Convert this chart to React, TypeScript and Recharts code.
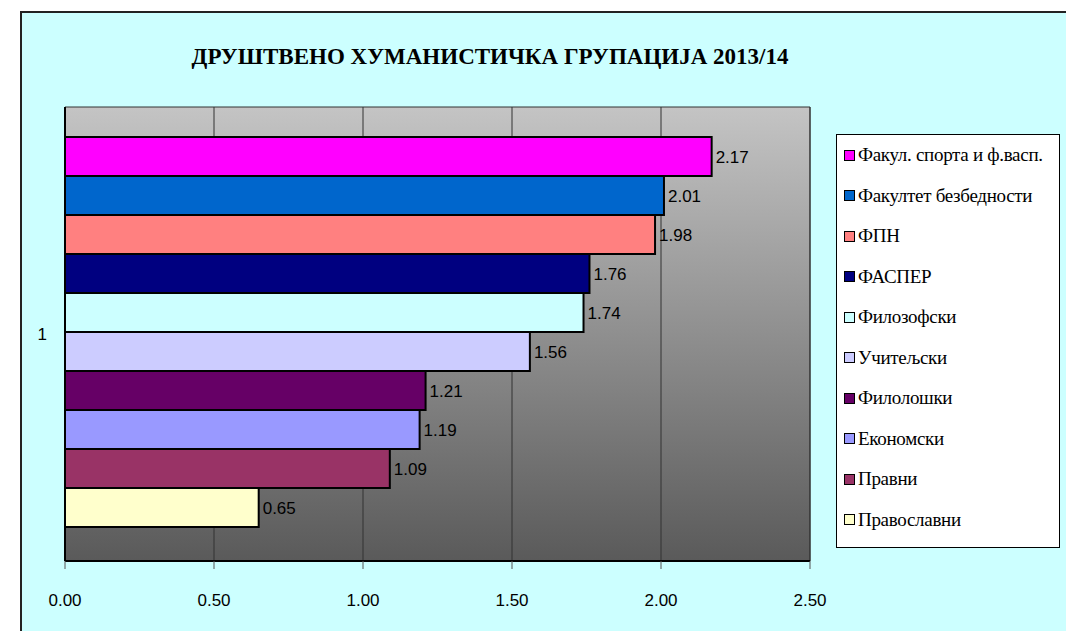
import React from 'react';
import {
  BarChart, Bar, XAxis, YAxis, CartesianGrid, LabelList, ReferenceArea
} from 'recharts';

// faculties, top to bottom
const faculties = [
  'Факул. спорта и ф.васп.',
  'Факултет безбедности',
  'ФПН',
  'ФАСПЕР',
  'Филозофски',
  'Учитељски',
  'Филолошки',
  'Економски',
  'Правни',
  'Православни',
];

const values = [2.17, 2.01, 1.98, 1.76, 1.74, 1.56, 1.21, 1.19, 1.09, 0.65];

const colors = [
  '#FF00FF', '#0066CC', '#FF8080', '#000080', '#CCFFFF',
  '#CCCCFF', '#660066', '#9999FF', '#993366', '#FFFFCC',
];

const categories = ['1'];
const xTicks = [0, 0.5, 1, 1.5, 2, 2.5];

const data = categories.map((name) => {
  const row: any = { name };
  values.forEach((v, i) => { row['s' + i] = v; });
  return row;
});

const sans = '"Liberation Sans", Arial, sans-serif';
const serif = '"Liberation Serif", "Times New Roman", serif';

export default function App() {
  return (
    <div style={{ position: 'relative', width: 1074, height: 639, margin: -8, background: '#fff', overflow: 'hidden' }}>
      {/* cyan frame */}
      <div style={{
        position: 'absolute', left: 20, top: 11, width: 1045, height: 640,
        background: '#CCFFFF', borderLeft: '2px solid #222', borderTop: '2px solid #222', borderRight: '2px solid #222',
      }} />
      <div style={{
        position: 'absolute', left: 0, width: 980, top: 44, textAlign: 'center',
        fontFamily: serif, fontWeight: 'bold', fontSize: 23, color: '#000',
      }}>
        ДРУШТВЕНО ХУМАНИСТИЧКА ГРУПАЦИЈА 2013/14
      </div>

      <div style={{ position: 'absolute', left: 0, top: 0 }}>
        <BarChart
          width={1074}
          height={639}
          data={data}
          layout="vertical"
          margin={{ top: 107, right: 264, bottom: 38, left: 20 }}
          barCategoryGap={30}
          barGap={0}
        >
          <defs>
            <linearGradient id="plotGrad" x1="0" y1="0" x2="0" y2="1">
              <stop offset="0%" stopColor="#C4C4C4" />
              <stop offset="100%" stopColor="#5A5A5A" />
            </linearGradient>
          </defs>
          <CartesianGrid
            horizontal={false}
            stroke="#333"
            fill="url(#plotGrad)"
            fillOpacity={1}
            verticalValues={xTicks}
          />
          <ReferenceArea x1={0} x2={2.5} fill="none" stroke="#333" strokeWidth={1} ifOverflow="extendDomain" />
          <XAxis
            type="number"
            domain={[0, 2.5]}
            ticks={xTicks}
            tickFormatter={(v: number) => v.toFixed(2)}
            axisLine={{ stroke: '#000', strokeWidth: 2 }}
            tickLine={{ stroke: '#555' }}
            tickSize={8}
            tickMargin={25}
            height={40}
            tick={{ fontFamily: sans, fontSize: 17, fill: '#000' }}
          />
          <YAxis
            type="category"
            dataKey="name"
            width={45}
            axisLine={{ stroke: '#000', strokeWidth: 2 }}
            tickLine={false}
            tickMargin={12}
            tick={{ fontFamily: sans, fontSize: 17, fill: '#000' }}
          />
          {values.map((_, i) => (
            <Bar
              key={i}
              dataKey={'s' + i}
              name={faculties[i]}
              fill={colors[i]}
              stroke="#000"
              strokeWidth={2}
              isAnimationActive={false}
            >
              <LabelList
                dataKey={'s' + i}
                position="right"
                offset={4}
                formatter={(v: any) => Number(v).toFixed(2)}
                style={{ fontFamily: sans, fontSize: 17, fill: '#000' }}
              />
            </Bar>
          ))}
        </BarChart>
      </div>

      {/* legend */}
      <div style={{
        position: 'absolute', left: 836, top: 134, width: 222, height: 412,
        background: '#fff', border: '1px solid #000',
      }}>
        {faculties.map((f, i) => (
          <div key={f} style={{
            height: 40.5, display: 'flex', alignItems: 'center', paddingLeft: 7,
            fontFamily: serif, fontSize: 19, color: '#000', whiteSpace: 'nowrap',
            letterSpacing: -0.3,
          }}>
            <span style={{
              display: 'inline-block', width: 9, height: 9, background: colors[i],
              border: '1.5px solid #000', marginRight: 3, flexShrink: 0,
            }} />
            {f}
          </div>
        ))}
      </div>
    </div>
  );
}
